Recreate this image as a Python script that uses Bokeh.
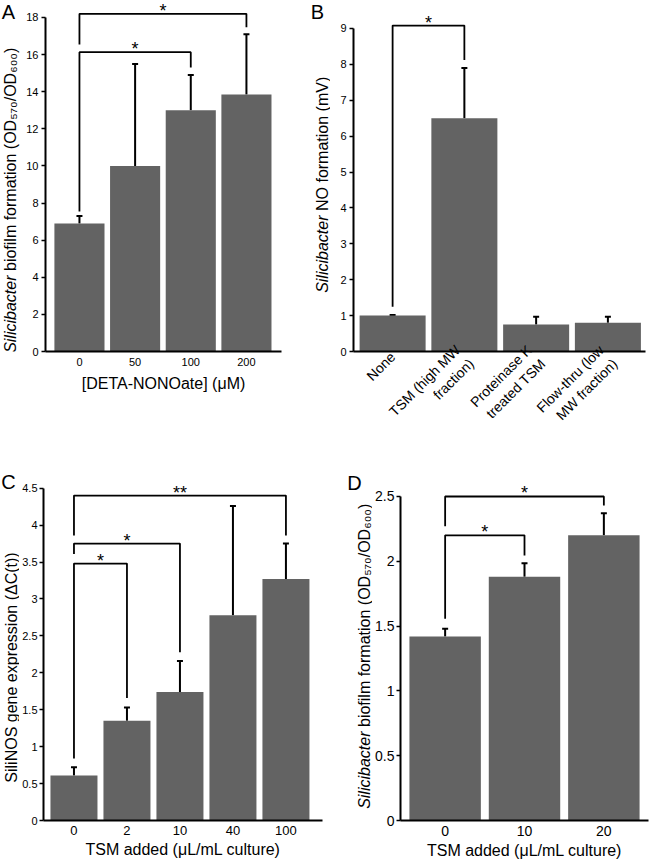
import math
from bokeh.plotting import figure
from bokeh.models import (FixedTicker, Whisker, TeeHead, ColumnDataSource,
                          Range1d, CustomJSTickFormatter)
from bokeh.layouts import row, column
from bokeh.embed import file_html
from bokeh.resources import INLINE
from bokeh.core.properties import value

FONT = "Liberation Sans"
BAR = "#636363"

# ---------------- data ----------------
# Panel A
a_cats = ["0", "50", "100", "200"]
a_means = [6.9, 10.0, 13.0, 13.85]
a_upper = [7.3, 15.5, 14.9, 17.1]
# significance brackets: (left bar, right bar, bracket level, left leg end, right leg end, mark)
a_sig = [(0, 3, 18.2, 16.55, 17.47, "*"), (0, 2, 16.13, 7.55, 15.3, "*")]
a_yticks = [0, 2, 4, 6, 8, 10, 12, 14, 16, 18]
a_xtitle = "[DETA-NONOate] (μM)"

# Panel B
b_cats = ["None", "TSM (high MW\nfraction)", "Proteinase K\ntreated TSM", "Flow-thru (low\nMW fraction)"]
b_means = [1.0, 6.5, 0.75, 0.8]
b_upper = [1.02, 7.9, 0.97, 0.97]
b_sig = [(0, 1, 9.08, 1.25, 8.12, "*")]
b_yticks = [0, 1, 2, 3, 4, 5, 6, 7, 8, 9]

# Panel C
c_cats = ["0", "2", "10", "40", "100"]
c_means = [0.61, 1.35, 1.74, 2.78, 3.27]
c_upper = [0.72, 1.53, 2.16, 4.26, 3.75]
c_sig = [(0, 4, 4.40, 3.86, 3.86, "**"), (0, 2, 3.75, 3.61, 2.28, "*"), (0, 1, 3.48, 0.84, 1.66, "*")]
c_yticks = [0, 0.5, 1, 1.5, 2, 2.5, 3, 3.5, 4, 4.5]
c_xtitle = "TSM added (μL/mL culture)"

# Panel D
d_cats = ["0", "10", "20"]
d_means = [1.42, 1.88, 2.20]
d_upper = [1.48, 1.985, 2.37]
d_sig = [(0, 2, 2.50, 2.27, 2.43, "*"), (0, 1, 2.20, 1.556, 2.045, "*")]
d_yticks = [0, 0.5, 1, 1.5, 2, 2.5]
d_xtitle = "TSM added (μL/mL culture)"

ital = "Silicibacter"
a_ytitle = "biofilm formation (OD₅₇₀/OD₆₀₀)"
b_ytitle = "NO formation (mV)"
c_ytitle = "SiliNOS gene expression (ΔC(t))"
d_ytitle = "biofilm formation (OD₅₇₀/OD₆₀₀)"


def panel(width, height, ml, mr, mt, mb, xr, yr, ybound, cats, means, upper, sig,
          yticks, bar_w, ytick_fs, xtick_fs, xtitle=None, xstand=6, ystand=3,
          title_stand=5):
    p = figure(width=width, height=height, x_range=Range1d(*xr), y_range=Range1d(*yr),
               output_backend="svg", toolbar_location=None,
               min_border_left=ml, min_border_right=mr, min_border_top=mt,
               min_border_bottom=mb)
    p.grid.visible = False
    p.outline_line_color = None
    p.background_fill_color = "white"
    xs = list(range(len(cats)))
    p.vbar(x=xs, top=means, width=bar_w, fill_color=BAR, line_color=None)
    src = ColumnDataSource(dict(base=xs, lower=means, upper=upper))
    p.add_layout(Whisker(source=src, base="base", lower="lower", upper="upper",
                         lower_head=None,
                         upper_head=TeeHead(size=6, line_width=2, line_color="black"),
                         line_width=2, line_color="black"))
    bx, by, sx, sy, st = [], [], [], [], []
    for i0, i1, yb, yl, yrr, mark in sig:
        bx.append([i0, i0, i1, i1])
        by.append([yl, yb, yb, yrr])
        sx.append((i0 + i1) / 2)
        sy.append(yb)
        st.append(mark)
    p.multi_line(xs=bx, ys=by, line_color="black", line_width=1.8)
    p.text(x=sx, y=sy, text=st, text_align="center", text_baseline="middle",
           y_offset=-3, text_font=value(FONT), text_font_size="18px",
           text_color="black")

    xa = p.xaxis[0]
    ya = p.yaxis[0]
    xa.ticker = FixedTicker(ticks=xs)
    xa.major_label_overrides = {i: c for i, c in enumerate(cats)}
    xa.major_tick_line_color = None
    xa.minor_tick_line_color = None
    xa.major_tick_out = 0
    xa.major_tick_in = 0
    xa.axis_line_width = 2
    xa.axis_line_color = "black"
    xa.major_label_text_font = FONT
    xa.major_label_text_font_size = xtick_fs
    xa.major_label_text_color = "black"
    xa.major_label_standoff = xstand
    if xtitle:
        xa.axis_label = xtitle
        xa.axis_label_text_font = FONT
        xa.axis_label_text_font_size = "16px"
        xa.axis_label_text_font_style = "normal"
        xa.axis_label_text_color = "black"
        xa.axis_label_standoff = title_stand

    ya.ticker = FixedTicker(ticks=yticks)
    ya.formatter = CustomJSTickFormatter(code="return String(tick)")
    ya.bounds = ybound
    ya.major_tick_out = 4
    ya.major_tick_in = 0
    ya.minor_tick_line_color = None
    ya.major_tick_line_width = 1.5
    ya.major_tick_line_color = "black"
    ya.axis_line_width = 2
    ya.axis_line_color = "black"
    ya.major_label_text_font = FONT
    ya.major_label_text_font_size = ytick_fs
    ya.major_label_text_color = "black"
    ya.major_label_standoff = ystand
    return p


def strip(width, height, org, ft, fb, letter, letter_xy, title_parts, title_x, title_y):
    """Narrow text-only figure holding a panel letter and a rotated y title.
    Its frame is aligned with the neighbouring plots' frames (top ft, bottom fb),
    so its ranges are set in page pixels (y negated) for that frame."""
    s = figure(width=width, height=height, x_range=Range1d(org[0], org[0] + width),
               y_range=Range1d(-(org[1] + fb), -(org[1] + ft)), output_backend="svg",
               toolbar_location=None, min_border_left=0, min_border_right=0,
               min_border_top=ft, min_border_bottom=height - fb,
               x_axis_type=None, y_axis_type=None)
    s.grid.visible = False
    s.outline_line_color = None
    lx, ly = letter_xy
    s.text(x=[lx], y=[-ly], text=[letter], text_align="center",
           text_baseline="middle", text_font=value(FONT), text_font_size="20px",
           text_color="black")
    if len(title_parts) == 1:
        s.text(x=[title_x], y=[-title_y], text=[title_parts[0]], angle=math.pi / 2,
               text_align="center", text_baseline="middle", text_font=value(FONT),
               text_font_size="16px", text_color="black")
    else:
        s.text(x=[title_x], y=[-title_y], text=[title_parts[0]], angle=math.pi / 2,
               text_align="right", text_baseline="middle", text_font=value(FONT),
               text_font_size="16px", text_font_style="italic", text_color="black")
        s.text(x=[title_x], y=[-(title_y - 4.5)], text=[title_parts[1]], angle=math.pi / 2,
               text_align="left", text_baseline="middle", text_font=value(FONT),
               text_font_size="16px", text_color="black")
    return s


H1, H2 = 450, 414
T1, B1 = 0, 99      # row 1 frame borders (top, bottom)
T2, B2 = 15, 44     # row 2 frame borders

sA = strip(22, H1, (0, 0), T1, H1 - B1, "A", (8, 11), [ital, a_ytitle], 10, 275)
pA = panel(278, H1, 23, 19, T1, B1, (-0.61, 3.63), (0, 18.916), (0, 18),
           a_cats, a_means, a_upper, a_sig, a_yticks, 0.9, "11px", "11px",
           xtitle=a_xtitle, title_stand=6)

sB = strip(30, H1, (300, 0), T1, H1 - B1, "B", (317, 11), [ital, b_ytitle], 322, 215)
pB = panel(320, H1, 23, 5, T1, B1, (-0.545, 3.524), (0, 9.78), (0, 9),
           b_cats, b_means, b_upper, b_sig, b_yticks, 0.92, "11px", "14px", xstand=3)
pB.xaxis[0].major_label_orientation = math.pi / 4

sC = strip(19, H2, (0, H1), T2, H2 - B2, "C", (8, 481), [c_ytitle], 11, 667)
pC = panel(316, H2, 24, 13, T2, B2, (-0.575, 4.69), (0, 4.808), (0, 4.5),
           c_cats, c_means, c_upper, c_sig, c_yticks, 0.887, "11px", "13px",
           xtitle=c_xtitle, xstand=5, ystand=2, title_stand=3)

sD = strip(37, H2, (335, H1), T2, H2 - B2, "D", (354, 482), [ital, d_ytitle], 364, 731)
pD = panel(278, H2, 26, 2, T2, B2, (-0.5625, 2.5625), (0, 2.739), (0, 2.5),
           d_cats, d_means, d_upper, d_sig, d_yticks, 0.9, "14px", "14px",
           xtitle=d_xtitle, xstand=5, ystand=2, title_stand=3)

layout = column(row(sA, pA, sB, pB), row(sC, pC, sD, pD))
open("out.html", "w").write(file_html(layout, INLINE))
